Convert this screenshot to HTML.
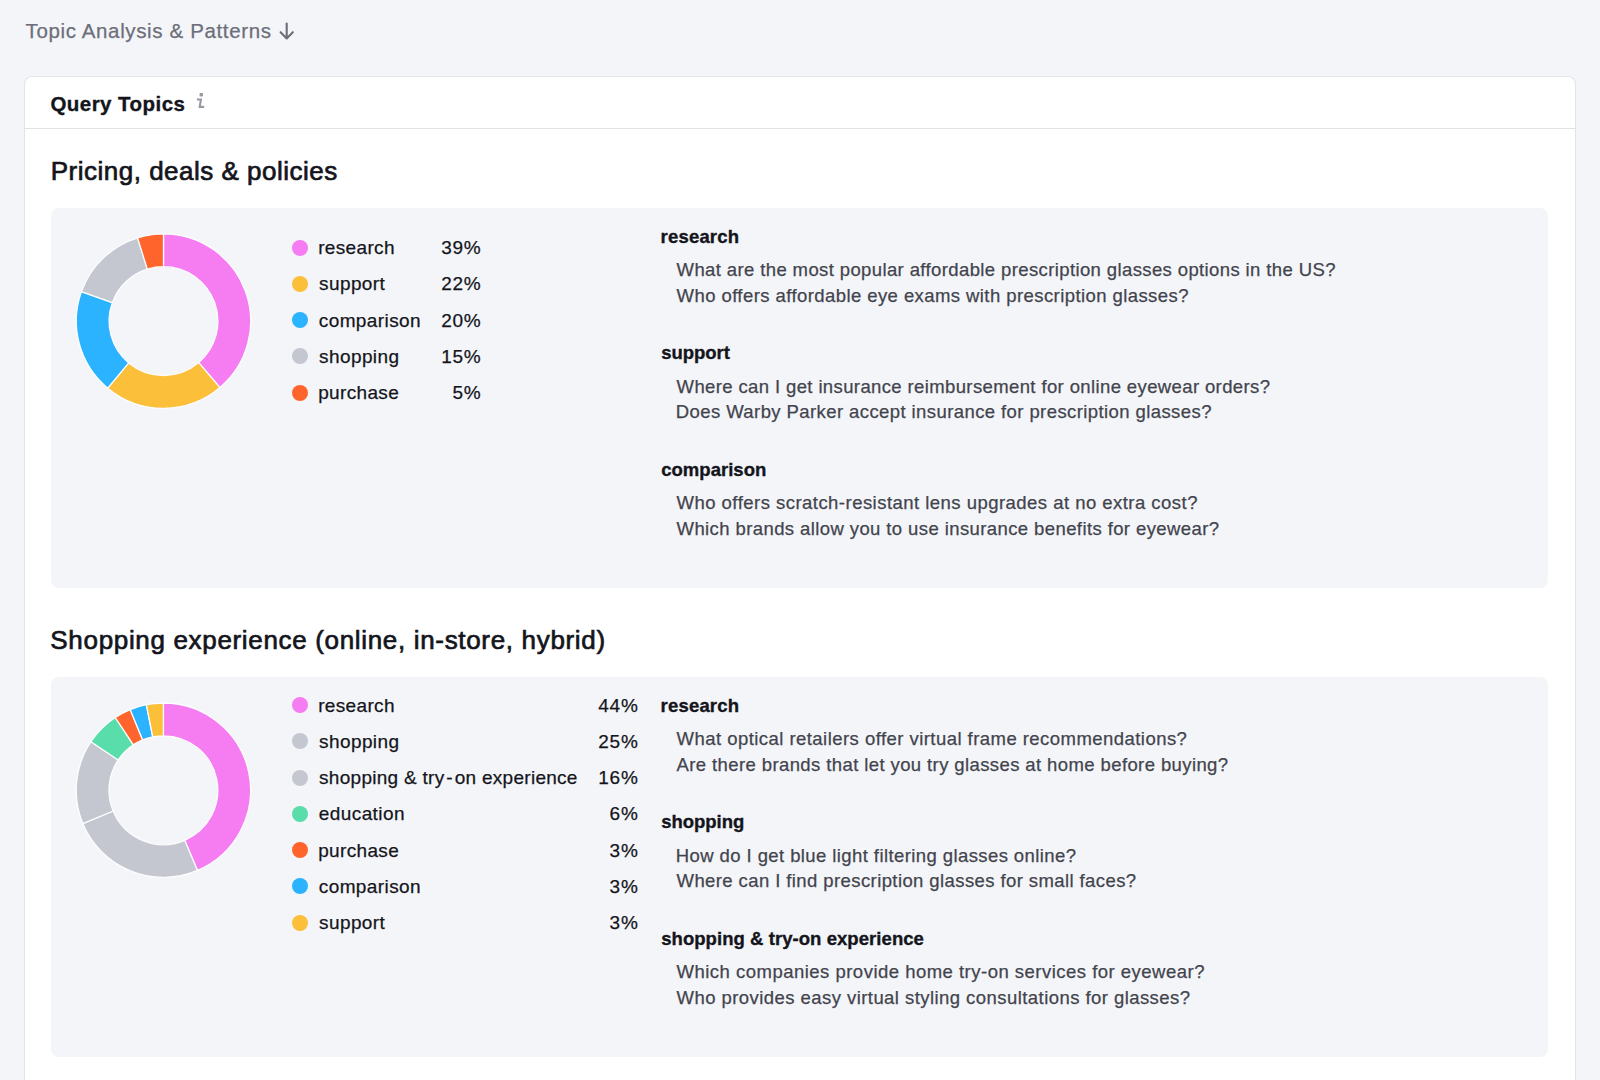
<!DOCTYPE html>
<html lang="en"><head><meta charset="utf-8"><title>Topic Analysis &amp; Patterns</title>
<style>
html,body{margin:0;padding:0}
body{width:1600px;height:1080px;overflow:hidden;background:#f4f5f9;font-family:"Liberation Sans",sans-serif;position:relative}
.card{position:absolute;left:25px;top:77px;width:1550px;height:1040px;background:#fff;border-radius:7px;box-shadow:0 0 0 1px rgba(30,30,36,.06),0 1px 3px rgba(30,30,36,.05)}
.sep{position:absolute;left:25px;top:128px;width:1550px;height:1px;background:#e1e2e7}
.box{position:absolute;left:51px;width:1497px;height:380px;background:#f4f5f9;border-radius:8px}
.t{position:absolute;white-space:nowrap;line-height:1;margin:0}
.dot{position:absolute;width:16px;height:16px;border-radius:50%}
svg{position:absolute;left:0;top:0}
</style></head><body>
<div class="card"></div>
<div class="sep"></div>
<div class="box" style="top:208px"></div>
<div class="box" style="top:677px"></div>

<div class="t" style="left:25.50px;top:21.15px;font-size:20.5px;font-weight:400;color:#6c6e79;letter-spacing:0.638px;-webkit-text-stroke:0.25px #6c6e79;">Topic Analysis &amp; Patterns</div>
<div class="t" style="left:50.48px;top:94.15px;font-size:20.5px;font-weight:700;color:#14151c;letter-spacing:0.448px;-webkit-text-stroke:0.35px #14151c;">Query Topics</div>
<div class="t" style="left:50.79px;top:157.89px;font-size:26px;font-weight:400;color:#14151c;letter-spacing:0.495px;-webkit-text-stroke:0.7px #14151c;">Pricing, deals &amp; policies</div>
<div class="t" style="left:50.37px;top:626.89px;font-size:26px;font-weight:400;color:#14151c;letter-spacing:0.669px;-webkit-text-stroke:0.7px #14151c;">Shopping experience (online, in-store, hybrid)</div>
<div class="t" style="left:318.19px;top:238.22px;font-size:19px;font-weight:400;color:#14151c;letter-spacing:0.342px;-webkit-text-stroke:0.25px #14151c;">research</div>
<div class="t" style="left:441.16px;top:238.22px;font-size:19px;font-weight:400;color:#14151c;letter-spacing:0.750px;-webkit-text-stroke:0.25px #14151c;">39%</div>
<div class="t" style="left:319.08px;top:274.42px;font-size:19px;font-weight:400;color:#14151c;letter-spacing:0.393px;-webkit-text-stroke:0.25px #14151c;">support</div>
<div class="t" style="left:441.16px;top:274.42px;font-size:19px;font-weight:400;color:#14151c;letter-spacing:0.750px;-webkit-text-stroke:0.25px #14151c;">22%</div>
<div class="t" style="left:318.79px;top:310.62px;font-size:19px;font-weight:400;color:#14151c;letter-spacing:0.397px;-webkit-text-stroke:0.25px #14151c;">comparison</div>
<div class="t" style="left:441.16px;top:310.62px;font-size:19px;font-weight:400;color:#14151c;letter-spacing:0.750px;-webkit-text-stroke:0.25px #14151c;">20%</div>
<div class="t" style="left:319.08px;top:346.82px;font-size:19px;font-weight:400;color:#14151c;letter-spacing:0.400px;-webkit-text-stroke:0.25px #14151c;">shopping</div>
<div class="t" style="left:441.16px;top:346.82px;font-size:19px;font-weight:400;color:#14151c;letter-spacing:0.750px;-webkit-text-stroke:0.25px #14151c;">15%</div>
<div class="t" style="left:318.19px;top:383.02px;font-size:19px;font-weight:400;color:#14151c;letter-spacing:0.345px;-webkit-text-stroke:0.25px #14151c;">purchase</div>
<div class="t" style="left:452.47px;top:383.02px;font-size:19px;font-weight:400;color:#14151c;letter-spacing:0.750px;-webkit-text-stroke:0.25px #14151c;">5%</div>
<div class="t" style="left:318.19px;top:695.72px;font-size:19px;font-weight:400;color:#14151c;letter-spacing:0.342px;-webkit-text-stroke:0.25px #14151c;">research</div>
<div class="t" style="left:598.28px;top:695.72px;font-size:19px;font-weight:400;color:#14151c;letter-spacing:0.750px;-webkit-text-stroke:0.25px #14151c;">44%</div>
<div class="t" style="left:319.08px;top:731.97px;font-size:19px;font-weight:400;color:#14151c;letter-spacing:0.400px;-webkit-text-stroke:0.25px #14151c;">shopping</div>
<div class="t" style="left:598.28px;top:731.97px;font-size:19px;font-weight:400;color:#14151c;letter-spacing:0.750px;-webkit-text-stroke:0.25px #14151c;">25%</div>
<div class="t" style="left:319.08px;top:768.22px;font-size:19px;font-weight:400;color:#14151c;letter-spacing:0.281px;-webkit-text-stroke:0.25px #14151c;">shopping &amp; try<span style="margin:0 1.8px">-</span>on experience</div>
<div class="t" style="left:598.28px;top:768.22px;font-size:19px;font-weight:400;color:#14151c;letter-spacing:0.750px;-webkit-text-stroke:0.25px #14151c;">16%</div>
<div class="t" style="left:318.79px;top:804.47px;font-size:19px;font-weight:400;color:#14151c;letter-spacing:0.415px;-webkit-text-stroke:0.25px #14151c;">education</div>
<div class="t" style="left:609.59px;top:804.47px;font-size:19px;font-weight:400;color:#14151c;letter-spacing:0.750px;-webkit-text-stroke:0.25px #14151c;">6%</div>
<div class="t" style="left:318.19px;top:840.72px;font-size:19px;font-weight:400;color:#14151c;letter-spacing:0.345px;-webkit-text-stroke:0.25px #14151c;">purchase</div>
<div class="t" style="left:609.59px;top:840.72px;font-size:19px;font-weight:400;color:#14151c;letter-spacing:0.750px;-webkit-text-stroke:0.25px #14151c;">3%</div>
<div class="t" style="left:318.79px;top:876.97px;font-size:19px;font-weight:400;color:#14151c;letter-spacing:0.397px;-webkit-text-stroke:0.25px #14151c;">comparison</div>
<div class="t" style="left:609.59px;top:876.97px;font-size:19px;font-weight:400;color:#14151c;letter-spacing:0.750px;-webkit-text-stroke:0.25px #14151c;">3%</div>
<div class="t" style="left:319.08px;top:913.22px;font-size:19px;font-weight:400;color:#14151c;letter-spacing:0.393px;-webkit-text-stroke:0.25px #14151c;">support</div>
<div class="t" style="left:609.59px;top:913.22px;font-size:19px;font-weight:400;color:#14151c;letter-spacing:0.750px;-webkit-text-stroke:0.25px #14151c;">3%</div>
<div class="t" style="left:660.60px;top:227.54px;font-size:18.5px;font-weight:700;color:#14151c;letter-spacing:0.181px;-webkit-text-stroke:0.35px #14151c;">research</div>
<div class="t" style="left:676.56px;top:261.04px;font-size:18.5px;font-weight:400;color:#42444d;letter-spacing:0.385px;-webkit-text-stroke:0.25px #42444d;">What are the most popular affordable prescription glasses options in the US?</div>
<div class="t" style="left:676.56px;top:286.84px;font-size:18.5px;font-weight:400;color:#42444d;letter-spacing:0.424px;-webkit-text-stroke:0.25px #42444d;">Who offers affordable eye exams with prescription glasses?</div>
<div class="t" style="left:661.18px;top:344.14px;font-size:18.5px;font-weight:700;color:#14151c;letter-spacing:-0.034px;-webkit-text-stroke:0.35px #14151c;">support</div>
<div class="t" style="left:676.56px;top:377.64px;font-size:18.5px;font-weight:400;color:#42444d;letter-spacing:0.381px;-webkit-text-stroke:0.25px #42444d;">Where can I get insurance reimbursement for online eyewear orders?</div>
<div class="t" style="left:675.81px;top:403.44px;font-size:18.5px;font-weight:400;color:#42444d;letter-spacing:0.411px;-webkit-text-stroke:0.25px #42444d;">Does Warby Parker accept insurance for prescription glasses?</div>
<div class="t" style="left:661.18px;top:460.74px;font-size:18.5px;font-weight:700;color:#14151c;letter-spacing:0.033px;-webkit-text-stroke:0.35px #14151c;">comparison</div>
<div class="t" style="left:676.56px;top:494.24px;font-size:18.5px;font-weight:400;color:#42444d;letter-spacing:0.469px;-webkit-text-stroke:0.25px #42444d;">Who offers scratch-resistant lens upgrades at no extra cost?</div>
<div class="t" style="left:676.56px;top:520.04px;font-size:18.5px;font-weight:400;color:#42444d;letter-spacing:0.403px;-webkit-text-stroke:0.25px #42444d;">Which brands allow you to use insurance benefits for eyewear?</div>
<div class="t" style="left:660.60px;top:696.54px;font-size:18.5px;font-weight:700;color:#14151c;letter-spacing:0.181px;-webkit-text-stroke:0.35px #14151c;">research</div>
<div class="t" style="left:676.56px;top:730.04px;font-size:18.5px;font-weight:400;color:#42444d;letter-spacing:0.455px;-webkit-text-stroke:0.25px #42444d;">What optical retailers offer virtual frame recommendations?</div>
<div class="t" style="left:676.56px;top:755.84px;font-size:18.5px;font-weight:400;color:#42444d;letter-spacing:0.397px;-webkit-text-stroke:0.25px #42444d;">Are there brands that let you try glasses at home before buying?</div>
<div class="t" style="left:661.18px;top:813.14px;font-size:18.5px;font-weight:700;color:#14151c;letter-spacing:-0.016px;-webkit-text-stroke:0.35px #14151c;">shopping</div>
<div class="t" style="left:675.81px;top:846.64px;font-size:18.5px;font-weight:400;color:#42444d;letter-spacing:0.410px;-webkit-text-stroke:0.25px #42444d;">How do I get blue light filtering glasses online?</div>
<div class="t" style="left:676.56px;top:872.44px;font-size:18.5px;font-weight:400;color:#42444d;letter-spacing:0.406px;-webkit-text-stroke:0.25px #42444d;">Where can I find prescription glasses for small faces?</div>
<div class="t" style="left:661.18px;top:929.74px;font-size:18.5px;font-weight:700;color:#14151c;letter-spacing:0.060px;-webkit-text-stroke:0.35px #14151c;">shopping &amp; try-on experience</div>
<div class="t" style="left:676.56px;top:963.24px;font-size:18.5px;font-weight:400;color:#42444d;letter-spacing:0.485px;-webkit-text-stroke:0.25px #42444d;">Which companies provide home try-on services for eyewear?</div>
<div class="t" style="left:676.56px;top:989.04px;font-size:18.5px;font-weight:400;color:#42444d;letter-spacing:0.442px;-webkit-text-stroke:0.25px #42444d;">Who provides easy virtual styling consultations for glasses?</div>
<div class="dot" style="left:292.4px;top:239.8px;background:#f67cf2"></div>
<div class="dot" style="left:292.4px;top:276.0px;background:#fbbf3a"></div>
<div class="dot" style="left:292.4px;top:312.2px;background:#2bb3ff"></div>
<div class="dot" style="left:292.4px;top:348.4px;background:#c4c7cf"></div>
<div class="dot" style="left:292.4px;top:384.6px;background:#ff642d"></div>
<div class="dot" style="left:292.4px;top:697.1px;background:#f67cf2"></div>
<div class="dot" style="left:292.4px;top:733.3px;background:#c4c7cf"></div>
<div class="dot" style="left:292.4px;top:769.6px;background:#c4c7cf"></div>
<div class="dot" style="left:292.4px;top:805.8px;background:#59ddaa"></div>
<div class="dot" style="left:292.4px;top:842.1px;background:#ff642d"></div>
<div class="dot" style="left:292.4px;top:878.3px;background:#2bb3ff"></div>
<div class="dot" style="left:292.4px;top:914.6px;background:#fbbf3a"></div>
<svg width="1600" height="1080" viewBox="0 0 1600 1080">
<g stroke="#fdfdfe" stroke-width="1.3" stroke-linejoin="round">
<path d="M163.50 233.90A87.2 87.2 0 0 1 219.96 387.56L198.72 362.56A54.4 54.4 0 0 0 163.50 266.70Z" fill="#f67cf2"/>
<path d="M219.96 387.56A87.2 87.2 0 0 1 107.73 388.13L128.71 362.92A54.4 54.4 0 0 0 198.72 362.56Z" fill="#fbbf3a"/>
<path d="M107.73 388.13A87.2 87.2 0 0 1 81.46 291.56L112.32 302.67A54.4 54.4 0 0 0 128.71 362.92Z" fill="#2bb3ff"/>
<path d="M81.46 291.56A87.2 87.2 0 0 1 137.57 237.84L147.32 269.16A54.4 54.4 0 0 0 112.32 302.67Z" fill="#c4c7cf"/>
<path d="M137.57 237.84A87.2 87.2 0 0 1 163.50 233.90L163.50 266.70A54.4 54.4 0 0 0 147.32 269.16Z" fill="#ff642d"/>
<path d="M163.40 703.00A87.2 87.2 0 0 1 197.47 870.47L184.66 840.28A54.4 54.4 0 0 0 163.40 735.80Z" fill="#f67cf2"/>
<path d="M197.47 870.47A87.2 87.2 0 0 1 82.84 823.57L113.14 811.02A54.4 54.4 0 0 0 184.66 840.28Z" fill="#c4c7cf"/>
<path d="M82.84 823.57A87.2 87.2 0 0 1 90.94 741.69L118.19 759.94A54.4 54.4 0 0 0 113.14 811.02Z" fill="#c4c7cf"/>
<path d="M90.94 741.69A87.2 87.2 0 0 1 115.27 717.49L133.37 744.84A54.4 54.4 0 0 0 118.19 759.94Z" fill="#59ddaa"/>
<path d="M115.27 717.49A87.2 87.2 0 0 1 130.17 709.58L142.67 739.90A54.4 54.4 0 0 0 133.37 744.84Z" fill="#ff642d"/>
<path d="M130.17 709.58A87.2 87.2 0 0 1 146.31 704.69L152.74 736.85A54.4 54.4 0 0 0 142.67 739.90Z" fill="#2bb3ff"/>
<path d="M146.31 704.69A87.2 87.2 0 0 1 163.40 703.00L163.40 735.80A54.4 54.4 0 0 0 152.74 736.85Z" fill="#fbbf3a"/>
</g>
<g fill="none" stroke="#6c6e79" stroke-width="2.1" stroke-linecap="round" stroke-linejoin="round"><path d="M286.7 23.6V38.2M280.6 32.2L286.7 38.4L292.8 32.2"/></g>
</svg>
<svg width="1600" height="1080" viewBox="0 0 1600 1080"><g fill="none" stroke="#979aa3" stroke-width="2.1" stroke-linejoin="miter"><path d="M196.9 99.5H200.9L199.7 106.9H204.2"/></g><rect x="199.5" y="93" width="3.5" height="3.4" rx="1" fill="#979aa3"/></svg>
</body></html>
